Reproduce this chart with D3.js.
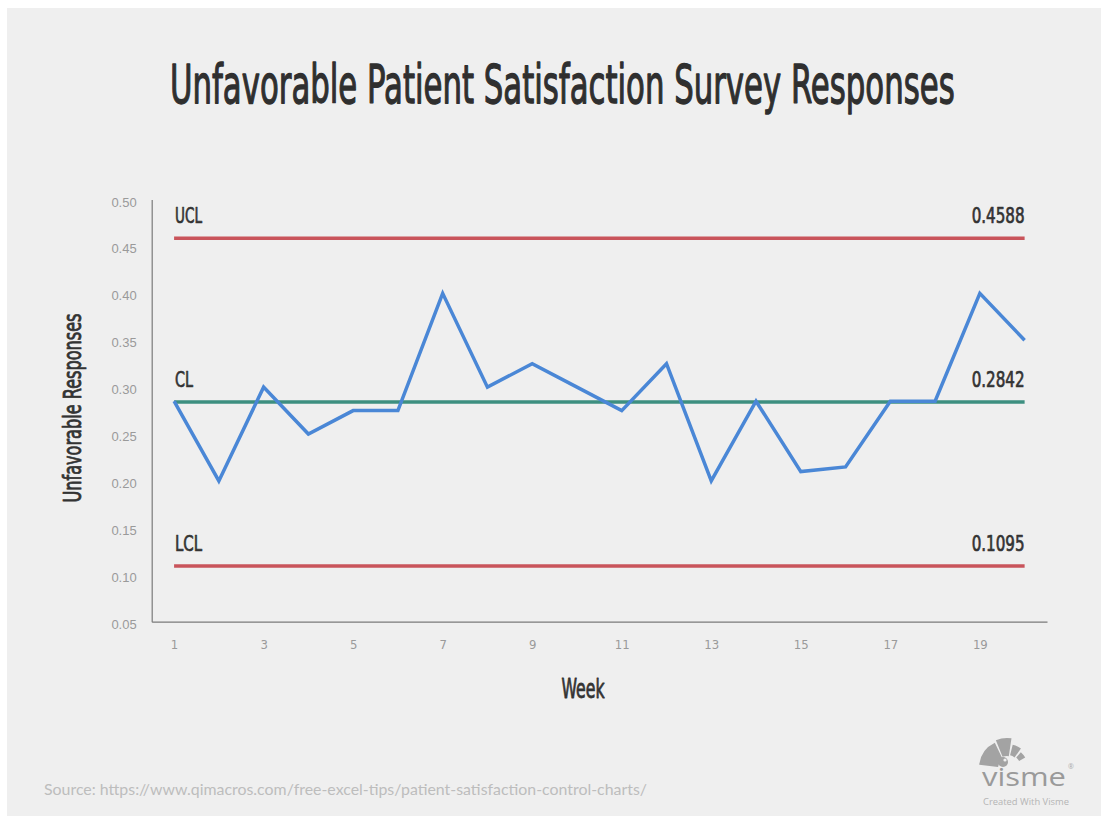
<!DOCTYPE html>
<html>
<head>
<meta charset="utf-8">
<script src="https://cdn.jsdelivr.net/npm/d3@7"></script>
<style>
  html, body { margin: 0; padding: 0; background: #ffffff; }
  svg { display: block; }
</style>
</head>
<body>
<svg id="chart" width="1101" height="816"></svg>
<script>
// Weekly share of unfavorable patient survey responses
const weeks = d3.range(1, 21);
const unfavorable = [0.285, 0.20, 0.30, 0.25, 0.275, 0.275, 0.40, 0.30, 0.325, 0.30,
                     0.275, 0.325, 0.20, 0.285, 0.21, 0.215, 0.285, 0.285, 0.40, 0.35];

// Control limits
const limitNames = ["UCL", "CL", "LCL"];
const limitValues = [0.4588, 0.2842, 0.1095];
const limitColors = ["#c9545b", "#3d8f80", "#c9545b"];

const yTicks = [0.05, 0.10, 0.15, 0.20, 0.25, 0.30, 0.35, 0.40, 0.45, 0.50];
const xTicks = [1, 3, 5, 7, 9, 11, 13, 15, 17, 19];

const titleText = "Unfavorable Patient Satisfaction Survey Responses";
const sourceText = "Source: https://www.qimacros.com/free-excel-tips/patient-satisfaction-control-charts/";

const condensed = "'DejaVu Sans Condensed', 'Liberation Sans Narrow', sans-serif";

const svg = d3.select("#chart");

// Squeeze a text horizontally to a given width (tall, narrow display lettering).
function squeeze(sel, x, y, width, anchor, rotate) {
  const w = sel.node().getComputedTextLength();
  const k = width / w;
  sel.attr("x", 0).attr("y", 0)
     .attr("text-anchor", anchor || "start")
     .attr("transform", `translate(${x},${y})${rotate ? ` rotate(${rotate})` : ""} scale(${k},1)`);
  return sel;
}

// Display lettering: regular weight, thickened with a thin outline of the same colour.
function display(sel, size, weight) {
  return sel.attr("font-family", condensed)
    .attr("font-size", size)
    .attr("fill", "#333333")
    .attr("stroke", "#333333")
    .attr("stroke-width", weight)
    .attr("stroke-linejoin", "round");
}

// card background
svg.append("rect")
  .attr("x", 7).attr("y", 8)
  .attr("width", 1094).attr("height", 808)
  .attr("fill", "#efefef");

// title
squeeze(display(svg.append("text"), 54, 1.3)
  .attr("fill", "#2f2f2f").attr("stroke", "#2f2f2f")
  .text(titleText), 170, 103, 785);

const plot = { left: 151.7, right: 1047, top: 199.5, bottom: 621.7 };

const x = d3.scalePoint()
  .domain(weeks)
  .range([plot.left, plot.right])
  .padding(0.5);

const y = d3.scaleLinear()
  .domain([0.05, 0.50])
  .range([plot.bottom, plot.top]);

// y axis: line plus labels, no tick marks
const yAxis = svg.append("g")
  .attr("transform", `translate(${plot.left},0)`)
  .call(d3.axisLeft(y).tickValues(yTicks).tickFormat(d3.format(".2f")).tickSize(0).tickPadding(15));
yAxis.select(".domain").attr("stroke", "#7a7a7a").attr("stroke-width", 1.2);
yAxis.selectAll("text")
  .attr("font-family", "'Liberation Sans', Arial, sans-serif")
  .attr("font-size", 13)
  .attr("fill", "#9a9a9a")
  .attr("dy", "0.5em");

// x axis
const xAxis = svg.append("g")
  .attr("transform", `translate(0,${plot.bottom})`)
  .call(d3.axisBottom(x).tickValues(xTicks).tickSize(0).tickPadding(18));
xAxis.select(".domain").attr("stroke", "#7a7a7a").attr("stroke-width", 1.2);
xAxis.selectAll("text")
  .attr("font-family", condensed)
  .attr("font-size", 13)
  .attr("fill", "#9a9a9a");

// axis titles
squeeze(display(svg.append("text"), 25, 0.8)
  .text("Unfavorable Responses"), 81, 408, 189, "middle", -90);

squeeze(display(svg.append("text"), 26, 0.8)
  .text("Week"), 583, 698, 43, "middle");

// control limit lines with their labels
const limits = limitNames.map((name, i) => ({ name, value: limitValues[i], color: limitColors[i] }));
const x0 = x(weeks[0]);
const x1 = x(weeks[weeks.length - 1]);

const lim = svg.append("g").selectAll("g").data(limits).join("g");
lim.append("line")
  .attr("x1", x0).attr("x2", x1)
  .attr("y1", d => y(d.value)).attr("y2", d => y(d.value))
  .attr("stroke", d => d.color)
  .attr("stroke-width", 3.5);
display(lim.append("text"), 22, 0.7)
  .text(d => d.name)
  .each(function (d) {
    squeeze(d3.select(this), x0 + 1, y(d.value) - 15, d.name.length * 9);
  });
display(lim.append("text"), 22, 0.7)
  .text(d => d.value.toFixed(4))
  .each(function (d) {
    squeeze(d3.select(this), x1, y(d.value) - 15, 53, "end");
  });

// weekly series
const line = d3.line()
  .x((d, i) => x(weeks[i]))
  .y(d => y(d));
svg.append("path")
  .datum(unfavorable)
  .attr("d", line)
  .attr("fill", "none")
  .attr("stroke", "#4a87d6")
  .attr("stroke-width", 3.5)
  .attr("stroke-linejoin", "miter");

// source note
svg.append("text")
  .attr("x", 44).attr("y", 795)
  .attr("font-family", "Lato, sans-serif")
  .attr("font-size", 15)
  .attr("textLength", 603)
  .attr("lengthAdjust", "spacingAndGlyphs")
  .attr("fill", "#bdbdbd")
  .text(sourceText);

// brand mark
const logo = svg.append("g").attr("fill", "#a3a3a3");
const arc = d3.arc();
const cx = 1007, cy = 768;
[
  { innerRadius: 9, outerRadius: 28, startAngle: -1.45, endAngle: -0.45 },
  { innerRadius: 12, outerRadius: 30, startAngle: -0.38, endAngle: 0.15 },
  { innerRadius: 13, outerRadius: 24, startAngle: 0.24, endAngle: 0.62 },
  { innerRadius: 14, outerRadius: 21, startAngle: 0.72, endAngle: 1.05 }
].forEach(a => {
  logo.append("path").attr("transform", `translate(${cx},${cy})`).attr("d", arc(a));
});
logo.append("circle").attr("cx", 1003).attr("cy", 762).attr("r", 5);
logo.append("circle").attr("cx", 1005).attr("cy", 760).attr("r", 1.6).attr("fill", "#efefef");

svg.append("text")
  .attr("x", 982).attr("y", 786)
  .attr("font-family", "'Open Sans', sans-serif")
  .attr("font-size", 25)
  .attr("textLength", 84)
  .attr("lengthAdjust", "spacingAndGlyphs")
  .attr("fill", "#9a9a9a")
  .text("visme");
svg.append("text")
  .attr("x", 1068).attr("y", 769)
  .attr("font-family", "'Open Sans', sans-serif")
  .attr("font-size", 7)
  .attr("fill", "#aaaaaa")
  .text("®");
svg.append("text")
  .attr("x", 983).attr("y", 805)
  .attr("font-family", "'Open Sans', sans-serif")
  .attr("font-size", 9)
  .attr("textLength", 86)
  .attr("lengthAdjust", "spacingAndGlyphs")
  .attr("fill", "#b5b5b5")
  .text("Created With Visme");
</script>
</body>
</html>
